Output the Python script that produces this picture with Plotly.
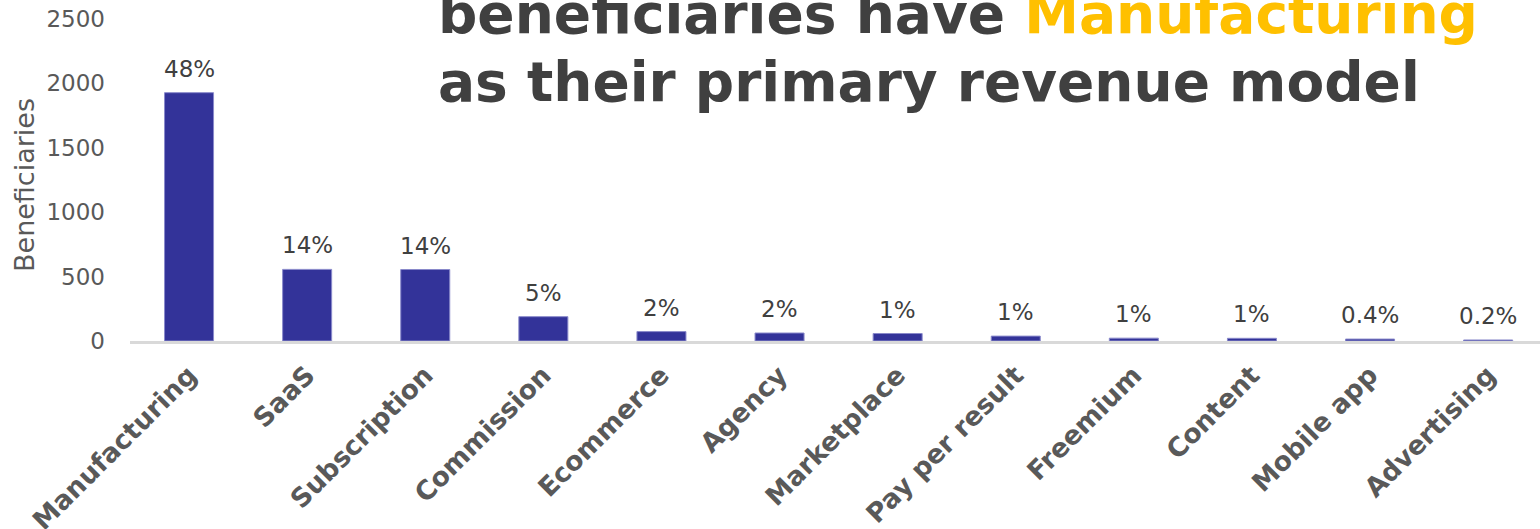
import plotly.graph_objects as go

categories = ["Manufacturing", "SaaS", "Subscription", "Commission", "Ecommerce", "Agency",
              "Marketplace", "Pay per result", "Freemium", "Content", "Mobile app", "Advertising"]
beneficiaries = [1928, 556, 555, 189, 73, 62, 58, 38, 22, 21, 15, 8]
share_labels = ["48%", "14%", "14%", "5%", "2%", "2%", "1%", "1%", "1%", "1%", "0.4%", "0.2%"]
y_ticks = [0, 500, 1000, 1500, 2000, 2500]

W, H = 1540, 529
ML, MR, MT, MB = 130, 0, 19, 188
plot_w = W - ML - MR
plot_h = H - MT - MB
cat_px = 118.1

fig = go.Figure()
fig.add_trace(go.Bar(
    x=categories, y=beneficiaries, width=0.415,
    marker=dict(color="#333399", line=dict(color="#8a8acb", width=1)),
    hoverinfo="x+y", showlegend=False,
))

annotations = []
for c, v, t in zip(categories, beneficiaries, share_labels):
    annotations.append(dict(
        x=c, y=v, xref="x", yref="y", text=t, showarrow=False,
        yanchor="bottom", yshift=9,
        font=dict(family="DejaVu Sans", size=23, color="#404040"),
    ))

def px_x(px):
    return (px - ML) / plot_w

def px_y(py):
    return (H - MB - py) / plot_h

title_font = dict(family="DejaVu Sans", size=55, color="#404040")
annotations.append(dict(
    xref="paper", yref="paper", x=px_x(436), y=px_y(34), xanchor="left", yanchor="bottom",
    yshift=-14,
    text="<b>beneficiaries have <span style='color:#FFC000'>Manufacturing</span></b>",
    showarrow=False, font=title_font, align="left",
))
annotations.append(dict(
    xref="paper", yref="paper", x=px_x(436), y=px_y(102), xanchor="left", yanchor="bottom",
    yshift=-14,
    text="<b>as their primary revenue model</b>",
    showarrow=False, font=title_font, align="left",
))
annotations.append(dict(
    xref="paper", yref="paper", x=px_x(24), y=px_y(185), xanchor="center", yanchor="middle",
    text="Beneficiaries", textangle=-90, showarrow=False,
    font=dict(family="DejaVu Sans", size=27, color="#595959"),
))

fig.update_layout(
    width=W, height=H,
    margin=dict(l=ML, r=MR, t=MT, b=MB, pad=0, autoexpand=False),
    paper_bgcolor="white", plot_bgcolor="white",
    xaxis=dict(
        range=[-0.5, -0.5 + plot_w / cat_px], automargin=False,
        tickangle=-45, ticks="", ticklabelstandoff=5,
        tickfont=dict(family="DejaVu Sans", size=26.5, color="#595959", weight="bold"),
        showline=True, linecolor="#d9d9d9", linewidth=3,
        showgrid=False, zeroline=False,
    ),
    yaxis=dict(
        range=[0, 2500], tickvals=y_ticks, ticks="", ticklabelstandoff=24, automargin=False,
        tickfont=dict(family="DejaVu Sans", size=23, color="#595959"),
        showline=False, showgrid=False, zeroline=False,
    ),
    annotations=annotations,
)

fig.write_html("out.html")
